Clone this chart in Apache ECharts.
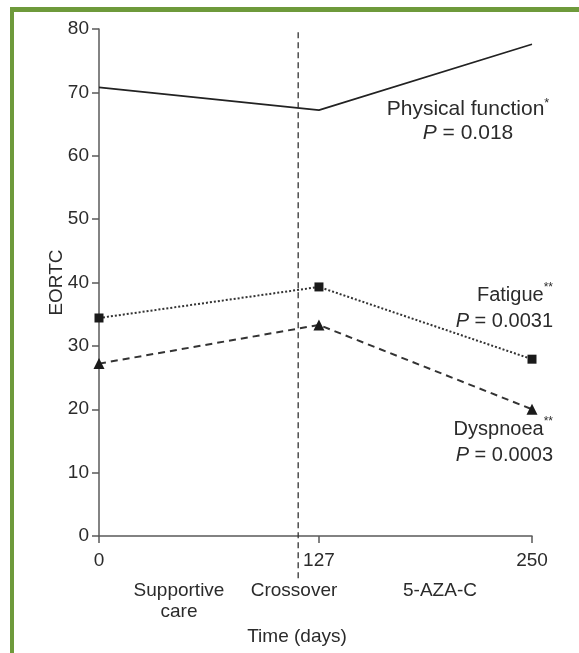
<!DOCTYPE html>
<html>
<head>
<meta charset="utf-8">
<script src="https://cdn.jsdelivr.net/npm/echarts@6/dist/echarts.min.js"></script>
<style>
html,body{margin:0;padding:0;background:#fff;}
#c{width:579px;height:653px;}
</style>
</head>
<body>
<div id="c"></div>
<script>
// ---- data ----
const days = [0, 127, 250];
const physicalFunction = [70.8, 67.2, 77.6];
const fatigue = [34.4, 39.3, 27.9];
const dyspnoea = [27.2, 33.3, 20.0];
const crossoverDay = 115;
const crossoverSpan = [79.5, -7.3];
const xTickValues = [0, 127, 250];
const yTicks = [0, 10, 20, 30, 40, 50, 60, 70, 80];
const phaseLabels = ['Supportive\ncare', 'Crossover', '5-AZA-C'];
const annotations = [
  ['Physical function', '*', '0.018'],
  ['Fatigue', '**', '0.0031'],
  ['Dyspnoea', '**', '0.0003']
];

const pts = arr => days.map((d, i) => [d, arr[i]]);
const FONT = '"Liberation Sans", Arial, sans-serif';
const TXT = '#2b2b2b';
const AX = '#5a5a5a';

const chart = echarts.init(document.getElementById('c'), null, {renderer: 'canvas'});

function rich(size) {
  return {
    n: {fontFamily: FONT, fontSize: size, fill: TXT, color: TXT},
    s: {fontFamily: FONT, fontSize: size * 0.6, fill: TXT, color: TXT, verticalAlign: 'top', padding: [0,0,8,0]},
    i: {fontFamily: FONT, fontSize: size, fontStyle: 'italic', fill: TXT, color: TXT}
  };
}
function annText(a) {
  return '{n|' + a[0] + '}{s|' + a[1] + '}\n{i|P}{n| = ' + a[2] + '}';
}

chart.setOption({
  animation: false,
  backgroundColor: '#fff',
  grid: {left: 99, right: 47, top: 29, bottom: 117, containLabel: false},
  xAxis: {
    type: 'value', min: 0, max: 250,
    axisLine: {show: true, lineStyle: {color: AX, width: 1.5}},
    axisTick: {show: true, length: 7, lineStyle: {color: AX, width: 1.5}, customValues: xTickValues},
    axisLabel: {fontFamily: FONT, fontSize: 19, color: TXT, margin: 15, customValues: xTickValues},
    splitLine: {show: false}
  },
  yAxis: {
    type: 'value', min: 0, max: 80, interval: 10,
    name: 'EORTC', nameLocation: 'middle', nameGap: 33, nameRotate: 90,
    nameMoveOverlap: false,
    nameTextStyle: {fontFamily: FONT, fontSize: 19, color: TXT},
    axisLine: {show: true, lineStyle: {color: AX, width: 1.5}},
    axisTick: {show: true, length: 7, lineStyle: {color: AX, width: 1.5}},
    axisLabel: {fontFamily: FONT, fontSize: 19, color: TXT, margin: 10,
      formatter: v => yTicks.includes(v) ? String(v) : ''},
    splitLine: {show: false}
  },
  series: [
    {
      name: 'Physical function', type: 'line', data: pts(physicalFunction),
      showSymbol: false, symbol: 'none',
      lineStyle: {color: '#222', width: 1.7, type: 'solid'}
    },
    {
      name: 'Fatigue', type: 'line', data: pts(fatigue),
      symbol: 'rect', symbolSize: 9, showSymbol: true,
      itemStyle: {color: '#1a1a1a'},
      lineStyle: {color: '#333', width: 2, type: [2, 2]}
    },
    {
      name: 'Dyspnoea', type: 'line', data: pts(dyspnoea),
      symbol: 'triangle', symbolSize: 11, showSymbol: true,
      itemStyle: {color: '#1a1a1a'},
      lineStyle: {color: '#333', width: 2, type: [7, 5]}
    },
    {
      name: 'Crossover', type: 'line', clip: false,
      data: [[crossoverDay, crossoverSpan[0]], [crossoverDay, crossoverSpan[1]]],
      symbol: 'none', showSymbol: false,
      lineStyle: {color: '#333', width: 1.3, type: [6, 4]}
    }
  ],
  graphic: [
    {type: 'rect', shape: {x: 10, y: 7, width: 569, height: 5}, style: {fill: '#6e9a3b'}, z: 100},
    {type: 'rect', shape: {x: 10, y: 7, width: 4, height: 646}, style: {fill: '#6e9a3b'}, z: 100},
    {type: 'text', x: 468, y: 121, style: {text: annText(annotations[0]), align: 'center', verticalAlign: 'middle', lineHeight: 24, rich: rich(21), fill: TXT, font: '21px ' + FONT}},
    {type: 'text', x: 553, y: 308, style: {text: annText(annotations[1]), align: 'right', verticalAlign: 'middle', lineHeight: 26, rich: rich(20), fill: TXT, font: '20px ' + FONT}},
    {type: 'text', x: 553, y: 442, style: {text: annText(annotations[2]), align: 'right', verticalAlign: 'middle', lineHeight: 26, rich: rich(20), fill: TXT, font: '20px ' + FONT}},
    {type: 'text', x: 179, y: 601, style: {text: phaseLabels[0], align: 'center', verticalAlign: 'middle', lineHeight: 21, fill: TXT, font: '19px ' + FONT}},
    {type: 'text', x: 294, y: 591, style: {text: phaseLabels[1], align: 'center', verticalAlign: 'middle', fill: TXT, font: '19px ' + FONT}},
    {type: 'text', x: 440, y: 591, style: {text: phaseLabels[2], align: 'center', verticalAlign: 'middle', fill: TXT, font: '19px ' + FONT}},
    {type: 'text', x: 297, y: 637, style: {text: 'Time (days)', align: 'center', verticalAlign: 'middle', fill: TXT, font: '19px ' + FONT}}
  ]
});
</script>
</body>
</html>
